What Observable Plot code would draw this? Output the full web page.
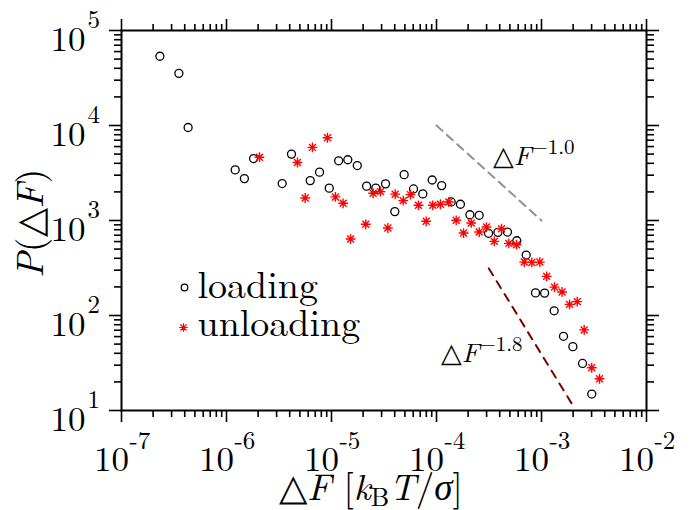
<!DOCTYPE html>
<html><head><meta charset="utf-8">
<script src="https://cdn.jsdelivr.net/npm/d3@7"></script>
<script src="https://cdn.jsdelivr.net/npm/@observablehq/plot@0.6"></script>
<style>
html,body{margin:0;padding:0;background:#fff;}
#chart{width:694px;height:510px;}
</style></head><body><div id="chart"></div>
<script>
// ---- data ----
const loadingX = [2.32e-7,3.52e-7,4.31e-7,1.21e-6,1.48e-6,1.81e-6,3.39e-6,4.16e-6,6.27e-6,7.69e-6,9.52e-6,1.17e-5,1.43e-5,1.76e-5,2.16e-5,2.64e-5,3.27e-5,4.01e-5,4.92e-5,6.04e-5,7.41e-5,9.10e-5,1.12e-4,1.38e-4,1.69e-4,2.08e-4,2.55e-4,3.13e-4,3.84e-4,4.74e-4,5.82e-4,7.15e-4,8.77e-4,1.07e-3,1.32e-3,1.62e-3,1.99e-3,2.46e-3,3.01e-3];
const loadingY = [53600,35400,9530,3410,2760,4490,2450,5000,2630,3230,2190,4250,4360,3790,2300,2190,2430,1240,3040,2150,1905,2670,2330,1567,1483,1150,1134,733,750,756,612,433,173,172,112,60.4,47.0,31.3,14.9];
const unloadingX = [2.06e-6,4.74e-6,5.62e-6,6.59e-6,9.16e-6,1.09e-5,1.29e-5,1.52e-5,2.12e-5,2.49e-5,2.93e-5,3.44e-5,4.04e-5,4.82e-5,5.65e-5,6.74e-5,7.98e-5,9.22e-5,1.09e-4,1.31e-4,1.54e-4,1.81e-4,2.14e-4,2.55e-4,2.99e-4,3.55e-4,4.16e-4,4.89e-4,5.78e-4,6.85e-4,8.09e-4,9.64e-4,1.12e-3,1.33e-3,1.57e-3,1.85e-3,2.19e-3,2.55e-3,3.01e-3,3.57e-3];
const unloadingY = [4640,4080,1726,5880,7430,1771,1518,638,912,1936,2014,834,1893,1619,1872,1446,981,1446,1483,1567,1005,738,942,756,853,603,820,574,556,365,362,365,258,199,177,131,140,70.5,28.2,21.6];
const guide1X = [1e-4, 1e-3];
const guide1Y = [1e4, 1e3];
const guide2X = [3.15e-4, 2.0e-3];
const guide2Y = [313, 11.2];
const guideLabels = ["−1.0", "−1.8"];
const guideLabelX = [3.47e-4, 1.11e-4];
const guideLabelY = [3790, 32.2];
const xMajorTicks = [1e-7,1e-6,1e-5,1e-4,1e-3,1e-2];
const xTickExponents = ["-7","-6","-5","-4","-3","-2"];
const yMajorTicks = [1e1,1e2,1e3,1e4,1e5];
const yTickExponents = ["1","2","3","4","5"];
const minorMultipliers = [2,3,4,5,6,7,8,9];
const seriesNames = ["loading","unloading"];

// ---- build ----
const loading = loadingX.map((x,i)=>({x, y: loadingY[i]}));
const unloading = unloadingX.map((x,i)=>({x, y: unloadingY[i]}));
const guide1 = guide1X.map((x,i)=>({x, y: guide1Y[i]}));
const guide2 = guide2X.map((x,i)=>({x, y: guide2Y[i]}));
const minorX = xMajorTicks.slice(0,-1).flatMap(t=>minorMultipliers.map(m=>m*t));
const minorY = yMajorTicks.slice(0,-1).flatMap(t=>minorMultipliers.map(m=>m*t));

const star8 = {draw(ctx, size){
  const r = Math.sqrt(size/Math.PI), s = r*Math.SQRT1_2;
  ctx.moveTo(-r,0);ctx.lineTo(r,0);ctx.moveTo(0,-r);ctx.lineTo(0,r);
  ctx.moveTo(-s,-s);ctx.lineTo(s,s);ctx.moveTo(-s,s);ctx.lineTo(s,-s);
}};

const FF = "Latin Modern Roman";
const tk = {tickFormat: ()=>"", label: null, strokeWidth: 1.6};

const plot = Plot.plot({
  width: 694, height: 510,
  marginLeft: 121, marginRight: 48, marginTop: 30, marginBottom: 100,
  x: {type: "log", domain: [1e-7, 1e-2], label: null},
  y: {type: "log", domain: [10, 1e5], label: null},
  marks: [
    Plot.axisX(xMajorTicks, {anchor:"bottom", tickSize:12, ...tk}),
    Plot.axisX(minorX, {anchor:"bottom", tickSize:7, ...tk}),
    Plot.axisX(xMajorTicks, {anchor:"top", tickSize:12, ...tk}),
    Plot.axisX(minorX, {anchor:"top", tickSize:7, ...tk}),
    Plot.axisY(yMajorTicks, {anchor:"left", tickSize:12, ...tk}),
    Plot.axisY(minorY, {anchor:"left", tickSize:7, ...tk}),
    Plot.axisY(yMajorTicks, {anchor:"right", tickSize:12, ...tk}),
    Plot.axisY(minorY, {anchor:"right", tickSize:7, ...tk}),
    Plot.text(xMajorTicks, {x: d=>d, frameAnchor:"bottom", text: ()=>"10", dx:-10, dy:60, textAnchor:"middle", lineAnchor:"bottom", fontSize:35, fontFamily:FF, fill:"black"}),
    Plot.text(xMajorTicks, {x: d=>d, frameAnchor:"bottom", text: (d,i)=>xTickExponents[i], dx:8, dy:38, textAnchor:"start", lineAnchor:"bottom", fontSize:25, fontFamily:FF, fill:"black"}),
    Plot.text(yMajorTicks, {y: d=>d, frameAnchor:"left", text: ()=>"10", dx:-36, dy:20, textAnchor:"end", lineAnchor:"bottom", fontSize:35, fontFamily:FF, fill:"black"}),
    Plot.text(yMajorTicks, {y: d=>d, frameAnchor:"left", text: (d,i)=>yTickExponents[i], dx:-34, dy:-3, textAnchor:"start", lineAnchor:"bottom", fontSize:25, fontFamily:FF, fill:"black"}),
    Plot.line(guide1, {x:"x", y:"y", stroke:"#909090", strokeWidth:2, strokeDasharray:"8,6"}),
    Plot.line(guide2, {x:"x", y:"y", stroke:"#7a0000", strokeWidth:2, strokeDasharray:"8,7"}),
    Plot.dot(loading, {x:"x", y:"y", r:4, stroke:"black", fill:"none", strokeWidth:1.3}),
    Plot.dot(unloading, {x:"x", y:"y", r:4.9, symbol: star8, stroke:"#ff0000", fill:"none", strokeWidth:1.4}),
    // legend
    Plot.dot([seriesNames[0]], {frameAnchor:"top-left", dx:63, dy:257, r:3.3, stroke:"black", fill:"none", strokeWidth:1.2}),
    Plot.dot([seriesNames[1]], {frameAnchor:"top-left", dx:62, dy:297, r:4.3, symbol: star8, stroke:"#ff0000", fill:"none", strokeWidth:1.2}),
    Plot.text([seriesNames[0]], {frameAnchor:"top-left", text: d=>d, dx:76, dy:267, textAnchor:"start", lineAnchor:"bottom", fontSize:38, fontFamily:FF, fill:"black"}),
    Plot.text([seriesNames[1]], {frameAnchor:"top-left", text: d=>d, dx:76, dy:305, textAnchor:"start", lineAnchor:"bottom", fontSize:38, fontFamily:FF, fill:"black"}),
    Plot.frame({stroke:"black", strokeWidth:2})
  ]
});
document.getElementById("chart").appendChild(plot);

// rich-text labels (axis titles and slope annotations)
const svg = d3.select(plot);
const sx = plot.scale("x"), sy = plot.scale("y");
function rich(g, parts){
  parts.forEach(p=>{
    const t = g.append("tspan").text(p.t);
    if (p.i) t.attr("font-style","italic");
    if (p.fs) t.attr("font-size", p.fs);
    if (p.dy) t.attr("dy", p.dy);
  });
  return g;
}
// x title
rich(svg.append("text").attr("x",279).attr("y",500).attr("text-anchor","start").attr("font-size",37).attr("fill","black"),
  [{t:"△"},{t:"F",i:1},{t:" ["},{t:"k",i:1},{t:"B",fs:26,dy:6},{t:"T",i:1,dy:-6},{t:"/"},{t:"σ",i:1},{t:"]"}]);
// y title
rich(svg.append("text").attr("transform","translate(43,278) rotate(-90)").attr("text-anchor","start").attr("font-size",38).attr("fill","black"),
  [{t:"P",i:1},{t:"("},{t:"△"},{t:"F",i:1},{t:")"}]);
// slope annotations
guideLabels.forEach((lab,i)=>{
  rich(svg.append("text").attr("x", sx.apply(guideLabelX[i])).attr("y", sy.apply(guideLabelY[i])).attr("text-anchor","start").attr("font-size",27).attr("fill","black"),
    [{t:"△"},{t:"F",i:1},{t:lab, fs:21, dy:-11}]);
});
svg.selectAll("text").style("font-family", "'Latin Modern Roman','Liberation Serif',serif");
</script></body></html>
